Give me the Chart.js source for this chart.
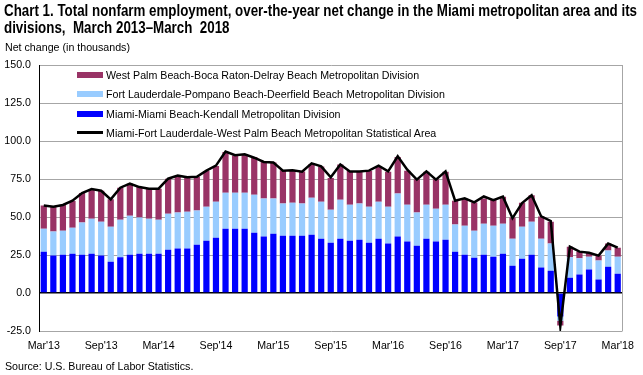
<!DOCTYPE html>
<html>
<head>
<meta charset="utf-8">
<script src="https://cdn.jsdelivr.net/npm/chart.js@4.4.1/dist/chart.umd.min.js"></script>
<style>
html,body{margin:0;padding:0;background:#fff;}
#wrap{position:relative;width:643px;height:375px;overflow:hidden;font-family:"Liberation Sans",Arial,sans-serif;color:#000;}
#c{position:absolute;left:0;top:0;}
.title{position:absolute;left:4px;white-space:pre;font-family:"Liberation Sans Narrow","Arial Narrow","Liberation Sans",Arial,sans-serif;font-weight:bold;font-size:16px;line-height:16px;transform-origin:0 0;}
.small{position:absolute;white-space:pre;font-size:10.67px;line-height:12px;}
.lg{position:absolute;left:0;height:12px;}
.sw{position:absolute;left:77px;width:26px;}
.lt{position:absolute;left:106px;top:0;white-space:pre;font-size:10.67px;line-height:12px;}
</style>
</head>
<body>
<div id="wrap">
  <canvas id="c" width="643" height="375"></canvas>
  <div class="title" id="t1" style="top:3px">Chart 1. Total nonfarm employment, over-the-year net change in the Miami metropolitan area and its</div>
  <div class="title" id="t2" style="top:20px">divisions,  March 2013–March  2018</div>
  <div class="small" style="left:5px;top:41px">Net change (in thousands)</div>
  <div class="small" style="left:5px;top:360px">Source: U.S. Bureau of Labor Statistics.</div>
  <div id="legend"></div>
</div>
<script>
const categories = [
 "Mar'13","Apr'13","May'13","Jun'13","Jul'13","Aug'13","Sep'13","Oct'13","Nov'13","Dec'13","Jan'14","Feb'14",
 "Mar'14","Apr'14","May'14","Jun'14","Jul'14","Aug'14","Sep'14","Oct'14","Nov'14","Dec'14","Jan'15","Feb'15",
 "Mar'15","Apr'15","May'15","Jun'15","Jul'15","Aug'15","Sep'15","Oct'15","Nov'15","Dec'15","Jan'16","Feb'16",
 "Mar'16","Apr'16","May'16","Jun'16","Jul'16","Aug'16","Sep'16","Oct'16","Nov'16","Dec'16","Jan'17","Feb'17",
 "Mar'17","Apr'17","May'17","Jun'17","Jul'17","Aug'17","Sep'17","Oct'17","Nov'17","Dec'17","Jan'18","Feb'18",
 "Mar'18"
];
const tickLabels = ["Mar'13","Sep'13","Mar'14","Sep'14","Mar'15","Sep'15","Mar'16","Sep'16","Mar'17","Sep'17","Mar'18"];

const seriesNames = [
 "West Palm Beach-Boca Raton-Delray Beach Metropolitan Division",
 "Fort Lauderdale-Pompano Beach-Deerfield Beach Metropolitan Division",
 "Miami-Miami Beach-Kendall Metropolitan Division",
 "Miami-Fort Lauderdale-West Palm Beach Metropolitan Statistical Area"
];

const miami = [
 27.2,24.6,25.2,25.9,25.2,25.9,24.6,20.6,23.5,25.2,25.9,25.9,
 25.9,28.5,29.3,29.3,31.8,34.4,36.4,42.3,42.3,42.3,39.7,37.1,
 39.0,37.7,37.7,37.7,38.4,35.7,33.1,35.7,34.4,35.1,33.1,35.7,
 32.5,37.1,33.8,31.1,35.7,33.8,35.1,27.2,25.2,23.2,25.2,23.9,
 25.9,18.0,22.6,25.2,16.7,14.7,-15.4,10.1,12.1,15.4,8.8,17.3,
 12.7
];
const fortLauderdale = [
 15.1,15.8,15.8,17.1,21.1,23.0,22.3,23.0,24.7,25.7,23.7,23.0,
 22.3,23.7,23.6,24.2,22.4,22.4,23.7,23.7,23.7,23.7,25.0,25.0,
 23.1,21.1,21.7,21.1,24.3,24.4,21.7,25.7,23.7,23.7,23.7,24.4,
 24.3,28.3,24.3,21.8,22.4,21.7,23.0,17.8,19.1,17.8,20.4,20.4,
 19.7,17.7,21.0,21.7,19.0,17.8,-2.8,13.4,10.7,8.5,12.5,10.6,
 11.2
];
const westPalm = [
 15.2,16.6,16.9,17.5,19.5,19.5,20.4,18.0,21.1,21.0,20.1,19.7,
 20.4,22.9,24.1,22.6,22.2,23.4,23.5,26.8,24.4,25.0,24.7,24.3,
 23.7,21.9,21.3,21.2,22.2,23.2,20.9,23.1,22.1,20.9,23.4,23.2,
 23.0,24.1,22.3,21.9,21.6,19.3,21.7,15.7,17.8,18.5,16.5,17.1,
 17.7,13.9,15.7,17.4,14.7,14.4,-3.1,7.0,4.4,2.6,3.3,4.6,
 5.9
];
const msaTotal = [
 57.5,56.8,57.9,60.7,65.8,68.4,67.3,61.6,69.3,71.9,69.7,68.6,
 68.6,75.2,77.2,76.1,76.4,80.5,83.8,93.0,90.6,91.2,89.0,86.2,
 85.8,80.5,80.7,79.8,85.3,83.3,76.1,84.6,80.0,80.0,80.5,83.8,
 80.0,89.9,81.1,74.6,80.0,74.6,80.0,60.7,62.3,59.6,63.5,61.0,
 63.4,49.2,59.2,64.3,50.4,47.4,-21.9,30.5,27.2,26.5,24.6,32.5,
 29.8
];

const colors = {westPalm:'#993366', fortLauderdale:'#99CCFF', miami:'#0000FF', msa:'#000000'};
const FONT = {family:'"Liberation Sans", Arial, sans-serif', size:10.67};

const frame = {
  id:'frame',
  afterDraw(chart){
    const a = chart.chartArea, c = chart.ctx;
    c.save();
    c.strokeStyle = '#a6a6a6'; c.lineWidth = 1;
    c.beginPath(); c.moveTo(Math.round(a.right)+0.5, a.top); c.lineTo(Math.round(a.right)+0.5, a.bottom); c.stroke();
    c.restore();
  }
};

const chart = new Chart(document.getElementById('c'), {
  data: {
    labels: categories,
    datasets: [
      {type:'bar', label:seriesNames[2], data:miami, backgroundColor:colors.miami, stack:'div', order:1, barPercentage:0.65, categoryPercentage:1},
      {type:'bar', label:seriesNames[1], data:fortLauderdale, backgroundColor:colors.fortLauderdale, stack:'div', order:1, barPercentage:0.65, categoryPercentage:1},
      {type:'bar', label:seriesNames[0], data:westPalm, backgroundColor:colors.westPalm, stack:'div', order:1, barPercentage:0.65, categoryPercentage:1},
      {type:'line', label:seriesNames[3], data:msaTotal, borderColor:colors.msa, backgroundColor:colors.msa, borderWidth:2.5, pointRadius:0, tension:0, fill:false, stack:'msa', order:0}
    ]
  },
  options: {
    responsive:false, animation:false, devicePixelRatio:1,
    layout:{padding:{top:65, right:20, bottom:0, left:0}},
    plugins:{legend:{display:false}, tooltip:{enabled:false}, title:{display:false}},
    scales:{
      x:{
        stacked:true, offset:true,
        grid:{display:false, drawTicks:false},
        border:{display:false},
        ticks:{autoSkip:false, maxRotation:0, minRotation:0, padding:9, color:'#000', font:FONT,
          callback:function(v, i){ const l = categories[i]; return tickLabels.includes(l) ? l : ''; }},
        afterFit(s){ s.height = 44; }
      },
      y:{
        stacked:true, min:-25, max:150,
        ticks:{stepSize:25, padding:8, color:'#000', font:FONT, callback:v => Number(v).toFixed(1)},
        grid:{drawTicks:false, color:c => (c.tick && c.tick.value === 0) ? '#000' : '#a6a6a6', lineWidth:c => (c.tick && c.tick.value === 0) ? 1.5 : 1},
        border:{color:'#000', width:1},
        afterFit(s){ s.width = 39; }
      }
    }
  },
  plugins:[frame]
});

// HTML legend, in the reference order
(function(){
  const lg = document.getElementById('legend');
  const orderIdx = [2,1,0,3];
  orderIdx.forEach((di, k) => {
    const ds = chart.data.datasets[di];
    const center = 75 + k*19.3;
    const row = document.createElement('div');
    row.className = 'lg';
    row.style.top = (center - 6) + 'px';
    const sw = document.createElement('div');
    sw.className = 'sw';
    if (ds.type === 'line') { sw.style.height = '3px'; sw.style.top = '4.5px'; sw.style.background = ds.borderColor; }
    else { sw.style.height = '6px'; sw.style.top = '3px'; sw.style.background = ds.backgroundColor; }
    const tx = document.createElement('div');
    tx.className = 'lt';
    tx.textContent = ds.label;
    row.appendChild(sw); row.appendChild(tx);
    lg.appendChild(row);
  });
})();

// fit title to reference width
(function(){
  const t1 = document.getElementById('t1'), t2 = document.getElementById('t2');
  const w = t1.getBoundingClientRect().width;
  const k = 633 / w;
  t1.style.transform = 'scaleX(' + k + ')';
  t2.style.transform = 'scaleX(' + k + ')';
})();
</script>
</body>
</html>
